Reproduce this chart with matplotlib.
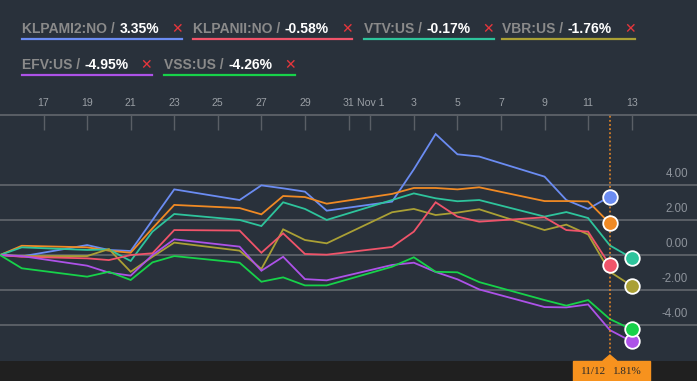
import numpy as np
import pandas as pd
import matplotlib
matplotlib.use("Agg")
import matplotlib.pyplot as plt
import matplotlib.dates as mdates
from matplotlib.patches import Rectangle, Polygon
from matplotlib.lines import Line2D

plt.rcParams['font.family'] = ['Liberation Sans', 'DejaVu Sans']

# trading days (2020)
days = pd.to_datetime([
    "2020-10-15", "2020-10-16", "2020-10-19", "2020-10-20", "2020-10-21",
    "2020-10-22", "2020-10-23", "2020-10-26", "2020-10-27", "2020-10-28",
    "2020-10-29", "2020-10-30", "2020-11-02", "2020-11-03", "2020-11-04",
    "2020-11-05", "2020-11-06", "2020-11-09", "2020-11-10", "2020-11-11",
    "2020-11-12", "2020-11-13"])

# % change since start; the first three stop on 11/12
klpami2 = [0, -0.08, 0.57, 0.29, 0.23, 2.00, 3.76, 3.15, 3.99, 3.82, 3.63, 2.54,
           3.06, 4.91, 6.93, 5.77, 5.64, 4.49, 3.15, 2.64, 3.35]
main = [0, 0.53, 0.44, 0.25, 0.13, 1.53, 2.87, 2.69, 2.33, 3.38, 3.32, 2.94,
        3.50, 3.84, 3.84, 3.76, 3.88, 3.09, 3.09, 3.07, 1.81]
klpanii = [0, -0.10, -0.19, -0.29, 0.00, 0.10, 1.43, 1.40, 0.13, 1.24, 0.06, 0.02,
           0.46, 1.34, 3.02, 2.20, 1.91, 2.16, 1.43, 1.34, -0.58]
vtv = [0, 0.44, 0.29, 0.32, -0.34, 1.34, 2.35, 2.01, 1.66, 3.02, 2.64, 2.01,
       3.15, 3.53, 3.25, 3.08, 3.15, 2.20, 2.46, 2.12, 0.55, -0.17]
vbr = [0, -0.06, -0.06, 0.34, -0.96, -0.10, 0.71, 0.25, -0.80, 1.47, 0.86, 0.67,
       2.45, 2.64, 2.29, 2.43, 2.62, 1.43, 1.74, 1.18, -0.96, -1.76]
efv = [0, -0.06, -0.61, -1.01, -1.18, 0.00, 0.90, 0.48, -0.90, -0.10, -1.38, -1.45,
       -0.57, -0.44, -0.97, -1.39, -1.97, -2.98, -3.00, -2.83, -4.30, -4.95]
vss = [0, -0.76, -1.24, -0.96, -1.43, -0.42, -0.06, -0.44, -1.53, -1.28, -1.74, -1.74,
       -0.67, -0.13, -0.96, -0.99, -1.55, -2.58, -2.90, -2.58, -3.67, -4.26]

legend_names = ["KLPAMI2:NO", "KLPANII:NO", "VTV:US", "VBR:US", "EFV:US", "VSS:US"]
legend_values = ["3.35%", "-0.58%", "-0.17%", "-1.76%", "-4.95%", "-4.26%"]

tick_dates = pd.to_datetime(["2020-10-17", "2020-10-19", "2020-10-21", "2020-10-23",
                             "2020-10-25", "2020-10-27", "2020-10-29", "2020-10-31",
                             "2020-11-01", "2020-11-03", "2020-11-05", "2020-11-07",
                             "2020-11-09", "2020-11-11", "2020-11-13"])
tick_labels = ["17", "19", "21", "23", "25", "27", "29", "31", "Nov 1",
               "3", "5", "7", "9", "11", "13"]
y_ticks = [4, 2, 0, -2, -4]
hover_date = pd.Timestamp("2020-11-12")
hover_label = ("11/12", "1.81%")

BG = '#29313b'
GRID = '#5a5f66'
W, H = 697, 381

C_BLUE = '#6b8cf2'
C_ORANGE = '#f08a24'
C_RED = '#f0546a'
C_TEAL = '#2ec49c'
C_OLIVE = '#aaa035'
C_PURPLE = '#ad52e8'
C_GREEN = '#17d24a'

fig = plt.figure(figsize=(W / 100, H / 100), dpi=100, facecolor=BG)
fig.add_artist(Rectangle((0, 0), 1, 20 / H, transform=fig.transFigure,
                         color='#202020', zorder=0))

ax = fig.add_axes([0, 20 / H, 1, 246 / H])
ax.set_facecolor(BG)

series = [
    (klpami2, C_BLUE),
    (main, C_ORANGE),
    (vtv, C_TEAL),
    (vbr, C_OLIVE),
    (klpanii, C_RED),
    (efv, C_PURPLE),
    (vss, C_GREEN),
]
xnum = mdates.date2num(days)
for vals, col in series:
    d = xnum[:len(vals)]
    ax.plot(d, vals, color=col, lw=1.3, zorder=3, solid_joinstyle='miter')
    ax.plot(d[-1:], vals[-1:], 'o', ms=10.5, color=col, mec='white', mew=1.3,
            zorder=5, clip_on=False)

x0 = xnum[0]
ax.set_xlim(x0, x0 + 32)
ax.set_ylim(-6.07, 8.02)

for v in y_ticks:
    ax.axhline(v, color=GRID, lw=1.4, zorder=1)
    ax.annotate(f"{v:.2f}", xy=(1, v), xycoords=('axes fraction', 'data'),
                xytext=(-9, 11), textcoords='offset pixels', ha='right', va='center',
                color='#8d939b', fontsize=8.3)
ax.set_yticks([])

ax.xaxis.tick_top()
ax.set_xticks(mdates.date2num(tick_dates))
ax.set_xticklabels(tick_labels)
ax.tick_params(axis='x', direction='in', length=11, width=1, color=GRID,
               labelcolor='#9a9fa5', labelsize=7.6, pad=5)
for s in ['bottom', 'left', 'right']:
    ax.spines[s].set_visible(False)
ax.spines['top'].set_color(GRID)
ax.spines['top'].set_linewidth(1.4)

# hover marker
hx = mdates.date2num(hover_date)
ax.axvline(hx, color=C_ORANGE, ls=(0, (1.2, 1.5)), lw=1.1, zorder=4)
tr = ax.get_xaxis_transform()
px = 1 / 21.79
ax.add_patch(Rectangle((hx - 37 * px, -20 / 246), 77 * px, 20 / 246,
                       transform=tr, color='#f7921e', clip_on=False, zorder=6))
ax.add_patch(Polygon([(hx - 7 * px, 0), (hx + 7 * px, 0), (hx, 6 / 246)],
                     closed=True, transform=tr, color='#f7921e', clip_on=False,
                     zorder=6))
ax.text(hx - 16 * px, -10 / 246, hover_label[0], transform=tr,
        ha='center', va='center', family='Liberation Serif', fontsize=8,
        color='#2a2a2a', zorder=7, clip_on=False)
ax.text(hx + 17 * px, -10 / 246, hover_label[1], transform=tr,
        ha='center', va='center', family='Liberation Serif', fontsize=8,
        color='#2a2a2a', zorder=7, clip_on=False)

# legend chips
fig.canvas.draw()
rend = fig.canvas.get_renderer()
leg_colors = [C_BLUE, C_RED, C_TEAL, C_OLIVE, C_PURPLE, C_GREEN]
leg_pos = [(22, 33), (193, 33), (364, 33), (502, 33), (22, 69), (164, 69)]
for name, val, col, (lx, yb) in zip(legend_names, legend_values, leg_colors, leg_pos):
    yf = 1 - yb / H
    t1 = fig.text(lx / W, yf, name + " /", color='#8a8a8a', fontsize=10,
                  fontweight='bold', va='baseline')
    x1 = t1.get_window_extent(rend).x1 + 4.5
    t2 = fig.text(x1 / W, yf, val, color='white', fontsize=10,
                  fontweight='bold', va='baseline')
    x2 = t2.get_window_extent(rend).x1 + 12
    fig.text(x2 / W, yf, "\u2715", color='#e8363c', fontsize=10,
             family='DejaVu Sans', fontweight='bold', va='baseline')
    fig.add_artist(Line2D([lx / W, (x2 + 11) / W], [1 - (yb + 5.5) / H] * 2,
                          transform=fig.transFigure, color=col, lw=1.6))

fig.savefig("out.png", dpi=100, facecolor=BG)
